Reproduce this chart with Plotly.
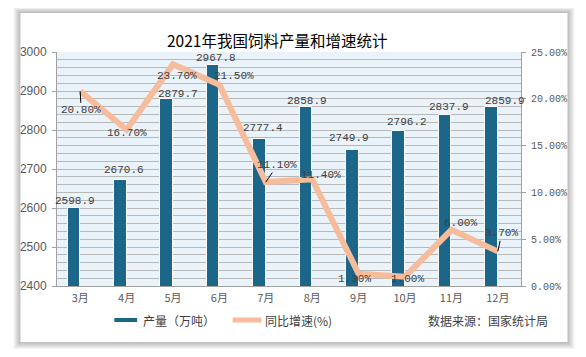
import plotly.graph_objects as go

# ---- data ----
months = ['3月', '4月', '5月', '6月', '7月', '8月', '9月', '10月', '11月', '12月']
production = [2598.9, 2670.6, 2879.7, 2967.8, 2777.4, 2858.9, 2749.9, 2796.2, 2837.9, 2859.9]
growth = [20.8, 16.7, 23.7, 21.5, 11.1, 11.4, 1.3, 1.0, 6.0, 3.7]
bar_name = '产量（万吨）'
line_name = '同比增速(%)'
title_text = '2021年我国饲料产量和增速统计'
source_text = '数据来源：国家统计局'

# ---- styling ----
OFF = 8  # browser body margin
W, H = 586 - OFF, 357 - OFF
L, R, T, B = 52 - OFF, (586 - OFF) - (521 - OFF), 52 - OFF, (357 - OFF) - (286 - OFF)
PW, PH = W - L - R, H - T - B
BAR = '#1B6689'
LINE = '#F6BC9B'
GRID = '#B8B8B8'
AXIS = '#A0A0A0'
TXT = '#404040'
CJK = 'Noto Sans CJK SC'
MONO = 'Liberation Mono'

def px(x):
    return (x - OFF - L) / PW

def py(y):
    return (H - B - (y - OFF)) / PH

# label offsets in pixels (styling)
bar_dx = [-5, -3, 5, -3, -3, -5, -10, 2, -2, 7]
bar_dy = [7, 10, 5, 7, 11, 6, 12, 9, 8, 6]
line_dx = [1, 0, 3.5, 14.5, 11.6, 8.6, -4, 2, 9, 4]
line_dy = [19, 3.5, 12, -8.5, -17, -4, 5, 2.5, -7, -18]
line_leader = [True, False, False, False, True, False, False, False, False, True]

fig = go.Figure()
fig.add_trace(go.Bar(
    x=months, y=production, yaxis='y', name=bar_name,
    marker=dict(color=BAR, line=dict(color='white', width=1)),
    width=0.27, offset=-0.27, showlegend=False,
))
fig.add_trace(go.Scatter(
    x=months, y=growth, yaxis='y2', name=line_name, mode='lines',
    line=dict(color=LINE, width=6), showlegend=False,
))

shapes = []
# card shadow
for k in range(7, 0, -1):
    shapes.append(dict(type='rect', xref='paper', yref='paper', layer='below',
                       x0=px(15 - k), x1=px(568 + k), y0=py(342 + k), y1=py(13 - k * 0.8),
                       fillcolor='rgba(0,0,0,0.04)', line=dict(width=0)))
shapes.append(dict(type='rect', xref='paper', yref='paper', layer='below',
                   x0=px(15), x1=px(568), y0=py(342), y1=py(13),
                   fillcolor='white', line=dict(width=0)))
# plot area background
shapes.append(dict(type='rect', xref='x domain', yref='y domain', layer='below',
                   x0=0, x1=1, y0=0, y1=1, fillcolor='#EAF2FA', line=dict(width=0)))
# legend icons
shapes.append(dict(type='line', xref='paper', yref='paper', x0=px(110), x1=px(133),
                   y0=py(320), y1=py(320), line=dict(color=BAR, width=4)))
shapes.append(dict(type='line', xref='paper', yref='paper', x0=px(229.5), x1=px(258.7),
                   y0=py(320), y1=py(320), line=dict(color=LINE, width=5)))

ann = []
ann.append(dict(text=title_text, xref='paper', yref='paper', x=px(274), y=py(40),
                showarrow=False, font=dict(family=CJK, size=15.5, color='#000000'),
                xanchor='center', yanchor='middle'))
ann.append(dict(text=bar_name, xref='paper', yref='paper', x=px(136.5), y=py(320),
                showarrow=False, font=dict(family=CJK, size=12, color=TXT),
                xanchor='left', yanchor='middle'))
ann.append(dict(text=line_name, xref='paper', yref='paper', x=px(260.7), y=py(320),
                showarrow=False, font=dict(family=CJK, size=12, color=TXT),
                xanchor='left', yanchor='middle'))
ann.append(dict(text=source_text, xref='paper', yref='paper', x=px(488), y=py(320),
                showarrow=False, font=dict(family=CJK, size=12, color=TXT),
                xanchor='center', yanchor='middle'))

for m, v, dx, dy in zip(months, production, bar_dx, bar_dy):
    ann.append(dict(text=f'{v:.1f}', x=m, y=v, xref='x', yref='y', showarrow=False,
                    xshift=dx, yshift=dy, font=dict(family=MONO, size=11, color=TXT),
                    xanchor='center', yanchor='middle'))

for m, v, dx, dy, ld in zip(months, growth, line_dx, line_dy, line_leader):
    label = f'{v:.2f}%'
    if ld:
        ann.append(dict(text=label, x=m, y=v, xref='x', yref='y2', showarrow=True,
                        ax=dx, ay=dy, arrowhead=0, arrowwidth=1, arrowcolor='#000000',
                        standoff=0, font=dict(family=MONO, size=11, color=TXT)))
    else:
        ann.append(dict(text=label, x=m, y=v, xref='x', yref='y2', showarrow=False,
                        xshift=dx, yshift=-dy, font=dict(family=MONO, size=11, color=TXT),
                        xanchor='center', yanchor='middle'))

fig.update_layout(
    width=W, height=H,
    margin=dict(l=L, r=R, t=T, b=B, pad=0),
    paper_bgcolor='white', plot_bgcolor='rgba(0,0,0,0)',
    showlegend=False,
    bargap=0,
    xaxis=dict(type='category', range=[-0.5, 9.5], showline=True, linecolor=AXIS, linewidth=1,
               ticks='', showgrid=False, tickfont=dict(family=CJK, size=11, color='#595959'),
               ticklabelstandoff=2, fixedrange=True),
    yaxis=dict(range=[2400, 3000], tick0=2400, dtick=100, showgrid=True, gridcolor=GRID,
               gridwidth=1.2, minor=dict(dtick=20, showgrid=True, gridcolor=GRID, gridwidth=1.2),
               ticks='outside', ticklen=4, tickcolor=AXIS, showline=True, linecolor=AXIS,
               zeroline=False, tickfont=dict(family='Liberation Sans', size=12, color='#595959'),
               ticklabelstandoff=3, fixedrange=True),
    yaxis2=dict(range=[0, 25], tick0=0, dtick=5, tickformat='.2f', ticksuffix='%',
                overlaying='y', side='right', showgrid=False, ticks='outside', ticklen=4,
                tickcolor=AXIS, showline=True, linecolor=AXIS, zeroline=False,
                tickfont=dict(family=MONO, size=10, color='#595959'),
                ticklabelstandoff=3, fixedrange=True),
    shapes=shapes,
    annotations=ann,
)

fig.write_html('out.html', config={'displayModeBar': False})
